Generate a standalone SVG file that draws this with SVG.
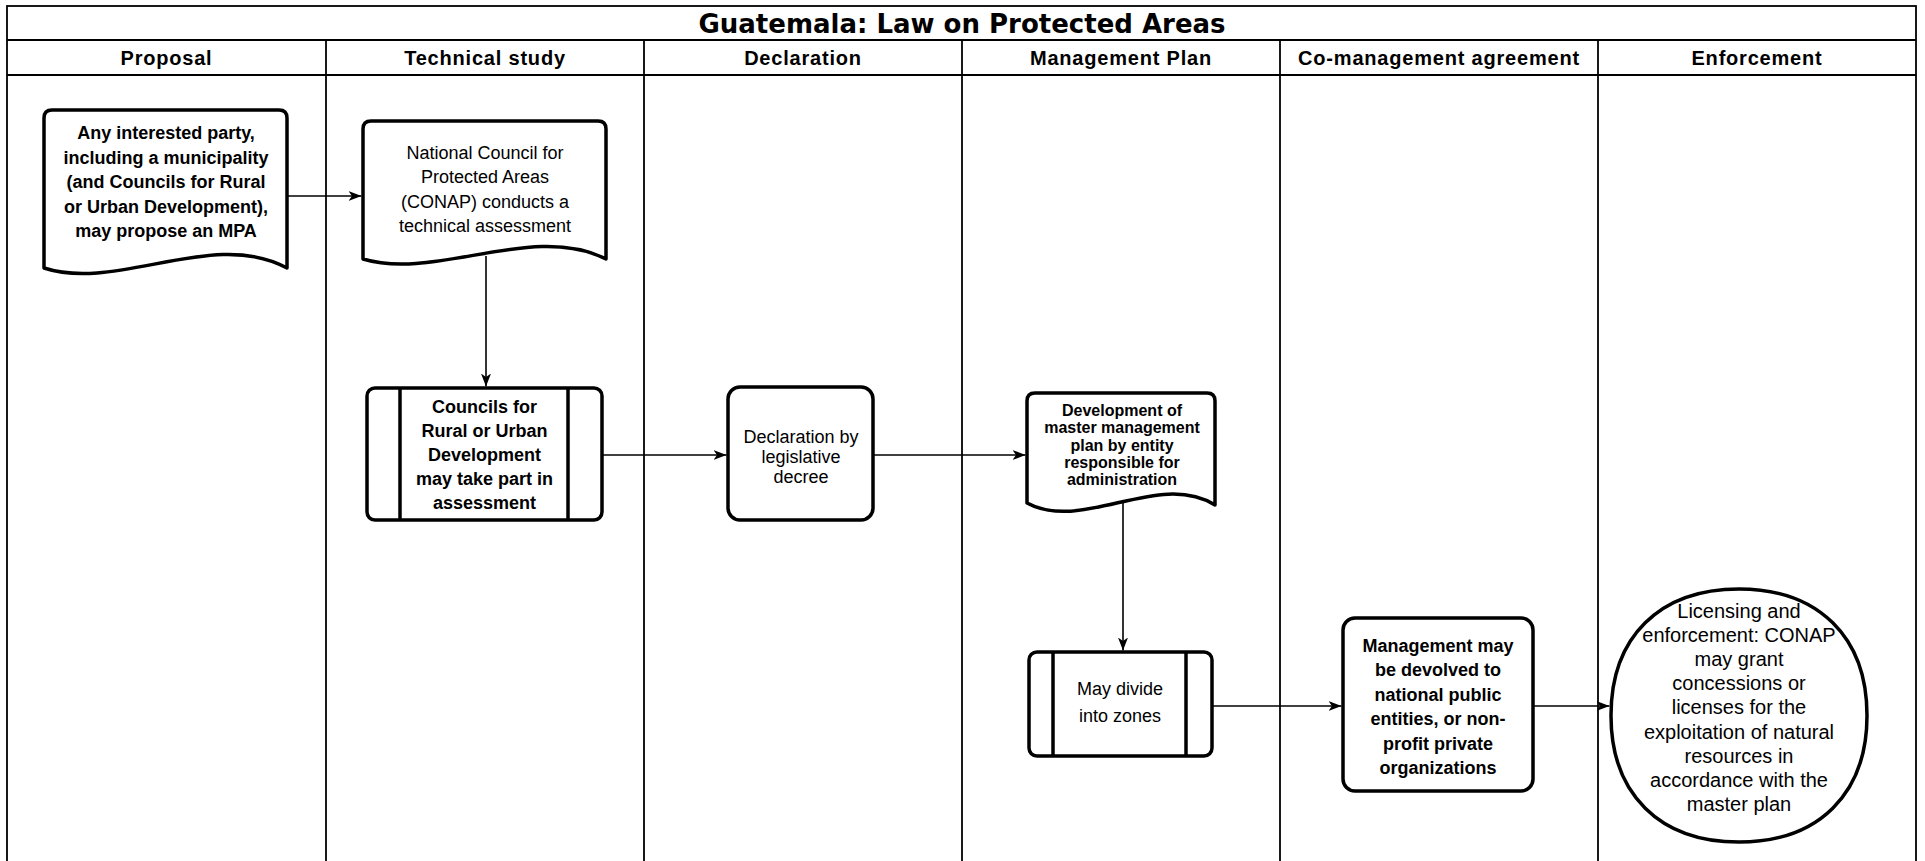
<svg xmlns="http://www.w3.org/2000/svg" width="1925" height="861" viewBox="0 0 1925 861">
<style>
.grid{fill:none;stroke:#000;stroke-width:1.8}
.node{fill:#fff;stroke:#000;stroke-width:3.5;stroke-linejoin:round}
.inner{fill:none;stroke:#000;stroke-width:3.5}
.edge{fill:none;stroke:#000;stroke-width:1.6}
.t{font-family:"Liberation Sans",Arial,sans-serif;font-size:18px;fill:#000;text-anchor:middle}
.b{font-weight:bold}
.s16{font-size:16px}
.s20{font-size:20px}
.hdr{font-family:"Liberation Sans",Arial,sans-serif;font-size:20px;font-weight:bold;text-anchor:middle;letter-spacing:0.8px;fill:#000}
.title{font-family:"DejaVu Sans",sans-serif;font-size:26px;font-weight:bold;text-anchor:middle;fill:#000}
</style>
<defs>
<marker id="arrow" markerWidth="14" markerHeight="12" refX="13" refY="6" orient="auto" markerUnits="userSpaceOnUse">
<path d="M0,1 L13,6 L0,11 L3.5,6 Z" fill="#000"/>
</marker>
</defs>
<rect x="0" y="0" width="1925" height="861" fill="#fff"/>
<g id="table">
<rect class="grid" x="7" y="6" width="1909" height="870"/>
<line class="grid" x1="7" y1="40" x2="1916" y2="40"/>
<line class="grid" x1="7" y1="75" x2="1916" y2="75"/>
<line class="grid" x1="326" y1="40" x2="326" y2="870"/>
<line class="grid" x1="644" y1="40" x2="644" y2="870"/>
<line class="grid" x1="962" y1="40" x2="962" y2="870"/>
<line class="grid" x1="1280" y1="40" x2="1280" y2="870"/>
<line class="grid" x1="1598" y1="40" x2="1598" y2="870"/>
<text class="title" x="962" y="32.5">Guatemala: Law on Protected Areas</text>
<text class="hdr" x="166.5" y="64.5">Proposal</text>
<text class="hdr" x="485" y="64.5">Technical study</text>
<text class="hdr" x="803" y="64.5">Declaration</text>
<text class="hdr" x="1121" y="64.5">Management Plan</text>
<text class="hdr" x="1439" y="64.5">Co-management agreement</text>
<text class="hdr" x="1757" y="64.5">Enforcement</text>
</g>
<g id="connectors">
<line class="edge" x1="287" y1="196" x2="361.5" y2="196" marker-end="url(#arrow)"/>
<line class="edge" x1="486" y1="256" x2="486" y2="386.5" marker-end="url(#arrow)"/>
<line class="edge" x1="602" y1="455" x2="726.5" y2="455" marker-end="url(#arrow)"/>
<line class="edge" x1="873" y1="455" x2="1025.5" y2="455" marker-end="url(#arrow)"/>
<line class="edge" x1="1123" y1="500" x2="1123" y2="650.5" marker-end="url(#arrow)"/>
<line class="edge" x1="1212" y1="706" x2="1341.5" y2="706" marker-end="url(#arrow)"/>
<line class="edge" x1="1533" y1="706" x2="1609.5" y2="706" marker-end="url(#arrow)"/>
</g>
<g id="node-proposal">
<path class="node" d="M44,268 L44,118 Q44,110 52,110 L279,110 Q287,110 287,118 L287,268 C214,228 117,292 44,268 Z"/>
<text class="t b"><tspan x="166" y="139.4">Any interested party,</tspan><tspan x="166" y="163.9">including a municipality</tspan><tspan x="166" y="188.4">(and Councils for Rural</tspan><tspan x="166" y="212.9">or Urban Development),</tspan><tspan x="166" y="237.4">may propose an MPA</tspan></text>
</g>
<g id="node-conap">
<path class="node" d="M363,259 L363,129 Q363,121 371,121 L598,121 Q606,121 606,129 L606,259 C533,222 436,281 363,259 Z"/>
<text class="t"><tspan x="485" y="158.7">National Council for</tspan><tspan x="485" y="183.2">Protected Areas</tspan><tspan x="485" y="207.7">(CONAP) conducts a</tspan><tspan x="485" y="232.2">technical assessment</tspan></text>
</g>
<g id="node-councils">
<rect class="node" x="367" y="388" width="235" height="132" rx="8"/>
<line class="inner" x1="400" y1="388" x2="400" y2="520"/>
<line class="inner" x1="568" y1="388" x2="568" y2="520"/>
<text class="t b"><tspan x="484.5" y="412.5">Councils for</tspan><tspan x="484.5" y="436.5">Rural or Urban</tspan><tspan x="484.5" y="460.5">Development</tspan><tspan x="484.5" y="484.5">may take part in</tspan><tspan x="484.5" y="508.5">assessment</tspan></text>
</g>
<g id="node-declaration">
<rect class="node" x="728" y="387" width="145" height="133" rx="12"/>
<text class="t"><tspan x="801" y="443">Declaration by</tspan><tspan x="801" y="463">legislative</tspan><tspan x="801" y="483">decree</tspan></text>
</g>
<g id="node-master-plan">
<path class="node" d="M1027,503 L1027,401 Q1027,393 1035,393 L1207,393 Q1215,393 1215,401 L1215,505 C1158,470 1083,533 1027,503 Z"/>
<text class="t b s16"><tspan x="1122" y="416.1">Development of</tspan><tspan x="1122" y="433.4">master management</tspan><tspan x="1122" y="450.7">plan by entity</tspan><tspan x="1122" y="468">responsible for</tspan><tspan x="1122" y="485.3">administration</tspan></text>
</g>
<g id="node-zones">
<rect class="node" x="1029" y="652" width="183" height="104" rx="8"/>
<line class="inner" x1="1053" y1="652" x2="1053" y2="756"/>
<line class="inner" x1="1186" y1="652" x2="1186" y2="756"/>
<text class="t"><tspan x="1120" y="694.5">May divide</tspan><tspan x="1120" y="722">into zones</tspan></text>
</g>
<g id="node-comanagement">
<rect class="node" x="1343" y="618" width="190" height="173" rx="12"/>
<text class="t b"><tspan x="1438" y="651.7">Management may</tspan><tspan x="1438" y="676.2">be devolved to</tspan><tspan x="1438" y="700.7">national public</tspan><tspan x="1438" y="725.2">entities, or non-</tspan><tspan x="1438" y="749.7">profit private</tspan><tspan x="1438" y="774.2">organizations</tspan></text>
</g>
<g id="node-enforcement">
<path class="node" d="M1611,715.5 C1611,637.1 1659.6,589 1739,589 C1818.4,589 1867,637.1 1867,715.5 C1867,793.9 1818.4,842 1739,842 C1659.6,842 1611,793.9 1611,715.5 Z"/>
<text class="t s20"><tspan x="1739" y="617.5">Licensing and</tspan><tspan x="1739" y="641.7">enforcement: CONAP</tspan><tspan x="1739" y="665.9">may grant</tspan><tspan x="1739" y="690.1">concessions or</tspan><tspan x="1739" y="714.3">licenses for the</tspan><tspan x="1739" y="738.5">exploitation of natural</tspan><tspan x="1739" y="762.7">resources in</tspan><tspan x="1739" y="786.9">accordance with the</tspan><tspan x="1739" y="811.1">master plan</tspan></text>
</g>
</svg>
